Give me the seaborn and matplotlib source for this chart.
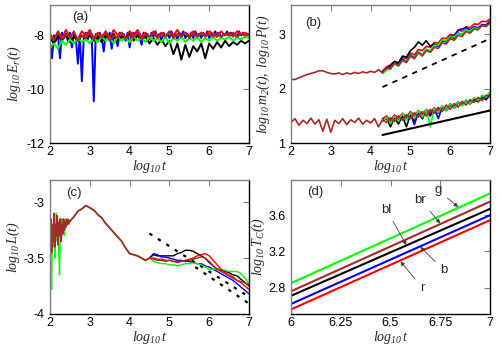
import numpy as np
import seaborn as sns
from matplotlib import pyplot as plt

# ---- data ----
# (a) log10 E_r(t)
blue_a = [-8.3, -8.85, -8.0, -8.2, -7.95, -8.85, -7.9, -8.1, -7.95, -8.2,
          -7.9, -8.45, -7.95, -8.1, -9.05, -8.0, -9.7, -8.05, -7.9, -8.15,
          -7.95, -8.1, -10.45, -7.95, -8.15, -7.9, -8.1, -8.6, -7.95, -8.1,
          -7.9, -8.5, -8.0, -8.15, -8.4, -7.9, -8.1, -7.95, -8.2, -7.9,
          -8.45, -8.0, -7.9, -8.15, -7.95, -8.1, -8.35, -7.9, -8.05, -7.95,
          -8.15, -7.9, -8.05, -7.85, -8.1, -7.95, -8.2, -7.9, -8.05, -7.95,
          -8.1, -7.85, -8.05, -7.95, -8.15, -7.9, -8.0, -7.85, -8.1, -7.95,
          -8.05, -7.9, -8.1, -7.85, -8.0, -7.95, -8.1, -7.9, -8.05, -7.85,
          -8.1, -7.95, -8.0, -7.85, -8.05, -7.9, -8.1, -7.95, -8.0, -7.85,
          -8.05, -7.9, -8.0, -7.95, -8.1, -7.85, -8.0, -7.9, -8.05, -7.95, -8.0]
red_a = [-7.95, -8.15, -7.85, -8.1, -7.8, -8.05, -7.9, -8.15, -7.85, -8.0,
         -7.8, -8.1, -7.9, -8.05, -7.85, -8.1, -7.8, -8.0, -7.9, -8.1,
         -7.85, -8.0, -7.8, -8.05, -7.9, -8.1, -7.85, -8.0, -7.9, -8.05,
         -7.85, -8.0, -7.8, -8.05, -7.9, -8.0, -7.85, -8.05, -7.9, -8.0,
         -7.85, -7.95, -8.05, -7.85, -8.0, -7.9, -8.05, -7.85, -7.95, -7.9, -8.0]
black_a = [-8.1, -8.3, -8.0, -8.2, -7.95, -8.25, -8.05, -8.2, -8.0, -8.15,
           -7.95, -8.2, -8.05, -8.25, -8.0, -8.15, -7.95, -8.2, -8.05, -8.1,
           -7.95, -8.2, -8.0, -8.15, -8.05, -8.3, -8.1, -8.35, -8.15, -8.4,
           -8.2, -8.7, -8.3, -8.9, -8.35, -8.8, -8.4, -8.6, -8.3, -8.85,
           -8.3, -8.5, -8.25, -8.45, -8.2, -8.4, -8.25, -8.35, -8.2, -8.3, -8.2]
green_a = [-8.45, -8.3, -8.5, -8.2, -8.35, -8.15, -8.3, -8.1, -8.25, -8.15,
           -8.3, -8.1, -8.25, -8.05, -8.2, -8.1, -8.3, -8.05, -8.2, -8.1,
           -8.25, -8.05, -8.2, -8.1, -8.25, -8.05, -8.2, -8.1, -8.25, -8.05,
           -8.3, -8.1, -8.2, -8.05, -8.25, -8.1, -8.2, -8.05, -8.25, -8.1,
           -8.2, -8.05, -8.2, -8.1, -8.15, -8.05, -8.2, -8.1, -8.15, -8.05, -8.1]
brown_a = [-8.0, -8.2, -7.9, -8.15, -7.95, -8.1, -7.85, -8.2, -8.0, -8.1,
           -7.9, -8.15, -7.95, -8.1, -7.9, -8.2, -8.0, -8.1, -7.9, -8.15,
           -8.0, -8.1, -7.9, -8.15, -7.95, -8.05, -7.9, -8.1, -7.95, -8.05,
           -7.9, -8.1, -7.95, -8.05, -7.9, -8.1, -7.95, -8.05, -7.9, -8.05,
           -7.95, -8.05, -7.9, -8.05, -7.95, -8.0, -7.9, -8.05, -7.95, -8.0, -7.95]

# (b) upper group log10 P(t), lower group log10 m2(t)
brown_up = [2.17, 2.17, 2.2, 2.23, 2.26, 2.28, 2.3, 2.33, 2.33, 2.3,
            2.28, 2.27, 2.29, 2.26, 2.29, 2.27, 2.3, 2.28, 2.31, 2.29,
            2.32, 2.3, 2.35, 2.29, 2.4, 2.36, 2.47, 2.42, 2.52, 2.48,
            2.6, 2.55, 2.66, 2.6, 2.7, 2.67, 2.76, 2.74, 2.84, 2.82,
            2.92, 2.89, 2.98, 2.96, 3.05, 3.02, 3.1, 3.08, 3.16, 3.14, 3.22]
red_up = [2.33, 2.4, 2.44, 2.5, 2.48, 2.57, 2.55, 2.66, 2.62, 2.72, 2.7, 2.78, 2.76, 2.85,
          2.84, 2.93, 2.92, 3.0, 2.98, 3.07, 3.06, 3.14, 3.12, 3.19, 3.18, 3.24, 3.23, 3.28]
black_up = [2.3, 2.38, 2.42, 2.5, 2.47, 2.6, 2.58, 2.7, 2.76, 2.86, 2.8, 2.88, 2.78, 2.82,
            2.8, 2.88, 2.86, 2.95, 2.93, 3.02, 3.0, 3.08, 3.06, 3.12, 3.1, 3.17, 3.15, 3.22]
blue_up = [2.3, 2.36, 2.4, 2.46, 2.45, 2.54, 2.5, 2.62, 2.57, 2.68, 2.62, 2.72, 2.68, 2.8,
           2.78, 2.88, 2.87, 2.97, 2.97, 3.08, 3.1, 3.12, 3.08, 3.14, 3.12, 3.18, 3.17, 3.24]
green_up = [2.28, 2.34, 2.38, 2.45, 2.42, 2.52, 2.5, 2.6, 2.56, 2.68, 2.62, 2.72, 2.7, 2.8,
            2.8, 2.9, 2.88, 2.96, 2.95, 3.02, 3.0, 3.08, 3.06, 3.12, 3.1, 3.16, 3.15, 3.2]
brown_low = [1.38, 1.45, 1.33, 1.42, 1.36, 1.46, 1.35, 1.43, 1.22, 1.44,
             1.2, 1.42, 1.36, 1.45, 1.34, 1.43, 1.38, 1.46, 1.35, 1.42,
             1.37, 1.45, 1.3, 1.43, 1.38, 1.47, 1.4, 1.5, 1.42, 1.52,
             1.45, 1.56, 1.48, 1.58, 1.5, 1.62, 1.55, 1.66, 1.58, 1.7,
             1.62, 1.73, 1.66, 1.77, 1.7, 1.8, 1.75, 1.84, 1.78, 1.88, 1.86]
red_low = [1.45, 1.5, 1.42, 1.52, 1.46, 1.55, 1.48, 1.58, 1.5, 1.6, 1.53, 1.62, 1.56, 1.65,
           1.6, 1.68, 1.62, 1.72, 1.66, 1.75, 1.7, 1.78, 1.73, 1.82, 1.77, 1.85, 1.8, 1.9]
black_low = [1.4, 1.46, 1.3, 1.48, 1.35, 1.5, 1.3, 1.52, 1.4, 1.56, 1.45, 1.6, 1.5, 1.62,
             1.55, 1.66, 1.6, 1.7, 1.64, 1.74, 1.7, 1.78, 1.72, 1.8, 1.76, 1.84, 1.8, 1.88]
blue_low = [1.42, 1.47, 1.38, 1.5, 1.42, 1.52, 1.45, 1.55, 1.34, 1.56, 1.5, 1.6, 1.52, 1.64,
            1.45, 1.66, 1.6, 1.72, 1.66, 1.76, 1.7, 1.78, 1.74, 1.82, 1.78, 1.86, 1.82, 1.9]
green_low = [1.4, 1.48, 1.36, 1.5, 1.4, 1.55, 1.42, 1.56, 1.45, 1.6, 1.48, 1.62, 1.3, 1.64,
             1.56, 1.68, 1.6, 1.72, 1.64, 1.76, 1.68, 1.8, 1.72, 1.84, 1.78, 1.88, 1.84, 1.95]
dash_b_x, dash_b_y = [4.3, 7.0], [2.03, 2.92]
solid_b_x, solid_b_y = [4.3, 7.0], [1.15, 1.6]

# (c) log10 L(t)
brown_c_early = [-3.4, -3.15, -3.45, -3.2, -3.35, -3.1, -3.4, -3.2, -3.3, -3.12, -3.38, -3.18, -3.3,
                 -3.15, -3.35, -3.2, -3.28, -3.15, -3.25, -3.18, -3.22, -3.15, -3.2, -3.16, -3.18, -3.17]
green_c_early = [-3.3, -3.5, -3.78, -3.2, -3.4, -3.15, -3.5, -3.25, -3.1, -3.35, -3.2, -3.45, -3.65,
                 -3.2, -3.3, -3.15, -3.25, -3.2, -3.3, -3.15, -3.22, -3.18, -3.2, -3.15, -3.2, -3.16]
brown_c_mid = [-3.17, -3.13, -3.08, -3.06, -3.03, -3.05, -3.07, -3.11, -3.14, -3.19, -3.23,
               -3.27, -3.31, -3.35, -3.41, -3.46, -3.47, -3.48, -3.5, -3.52, -3.5]
black_c = [-3.5, -3.47, -3.48, -3.48, -3.48, -3.48, -3.48, -3.46, -3.45, -3.43, -3.43, -3.44, -3.46,
           -3.48, -3.5, -3.54, -3.57, -3.6, -3.61, -3.62, -3.63, -3.65, -3.66, -3.69, -3.72, -3.75]
blue_c = [-3.5, -3.46, -3.47, -3.49, -3.49, -3.5, -3.51, -3.52, -3.52, -3.53, -3.53, -3.54, -3.55,
          -3.55, -3.57, -3.58, -3.6, -3.62, -3.64, -3.66, -3.68, -3.7, -3.73, -3.76, -3.79, -3.82]
red_c = [-3.5, -3.5, -3.51, -3.51, -3.52, -3.52, -3.53, -3.53, -3.53, -3.52, -3.51, -3.5, -3.48,
         -3.47, -3.46, -3.48, -3.52, -3.56, -3.6, -3.63, -3.65, -3.67, -3.7, -3.72, -3.75, -3.78]
brown_c_late = [-3.5, -3.51, -3.52, -3.52, -3.53, -3.52, -3.53, -3.54, -3.53, -3.52, -3.52, -3.51, -3.5,
                -3.49, -3.5, -3.53, -3.57, -3.6, -3.62, -3.64, -3.66, -3.68, -3.7, -3.71, -3.72, -3.74]
green_c_late = [-3.5, -3.53, -3.54, -3.55, -3.55, -3.56, -3.56, -3.57, -3.56, -3.55, -3.55, -3.54, -3.55,
                -3.56, -3.58, -3.6, -3.6, -3.59, -3.6, -3.61, -3.62, -3.62, -3.62, -3.64, -3.68, -3.73]
dot1_x, dot1_y = [4.5, 6.97], [-3.28, -3.84]
dot2_x, dot2_y = [5.65, 6.97], [-3.58, -3.9]

# (d) log10 T_C(t)
t_d = [6.0, 7.0]
tc_d = {'green': [2.85, 3.84], 'brown': [2.76, 3.75], 'black': [2.71, 3.67],
        'blue': [2.62, 3.6], 'red': [2.56, 3.545]}
# label, arrow tip, text position
notes_d = [('g', (6.84, 3.69), (6.74, 3.875)),
           ('br', (6.75, 3.51), (6.65, 3.77)),
           ('bl', (6.58, 3.27), (6.48, 3.66)),
           ('b', (6.65, 3.25), (6.77, 2.99)),
           ('r', (6.55, 3.09), (6.66, 2.80))]

cols = {'blue': '#0000ff', 'red': '#ff0000', 'black': '#000000',
        'green': '#00ff00', 'brown': '#a52a2a'}

# ---- style ----
sns.set_style('white')
plt.rcParams['font.family'] = ['Liberation Sans', 'DejaVu Sans']
plt.rcParams['axes.unicode_minus'] = False
plt.rcParams['mathtext.fontset'] = 'custom'
plt.rcParams['mathtext.it'] = 'Liberation Serif:italic'
plt.rcParams['mathtext.rm'] = 'Liberation Serif:italic'

fig = plt.figure(figsize=(5, 3.5), dpi=100)
ax_a = fig.add_axes([0.100, 0.591, 0.398, 0.395])
ax_b = fig.add_axes([0.582, 0.591, 0.398, 0.395])
ax_c = fig.add_axes([0.100, 0.103, 0.398, 0.383])
ax_d = fig.add_axes([0.582, 0.103, 0.398, 0.383])


def line(ax, y, start, color, lw=1.2, end=7.0):
    x = np.linspace(start, end, len(y))
    sns.lineplot(x=x, y=y, color=cols[color], lw=lw, ax=ax, sort=False,
                 estimator=None)


def frame(ax):
    for s in ['left', 'top']:
        ax.spines[s].set_color('#808080')
    for s in ['bottom', 'right']:
        ax.spines[s].set_color('black')
    for s in ax.spines.values():
        s.set_linewidth(1.0)
    ax.tick_params(direction='in', top=True, right=True, length=4,
                   color='#808080', labelsize=9, pad=2, labelcolor='black')
    ax.tick_params(axis='y', pad=4)
    ax.set_xlabel(r'$log_{10}\,t$', fontsize=10, labelpad=0)


# (a)
for c, y in [('blue', blue_a), ('red', red_a), ('black', black_a),
             ('green', green_a), ('brown', brown_a)]:
    line(ax_a, y, 2.0, c, lw=1.4)
ax_a.set_xlim(2, 7)
ax_a.set_ylim(-12, -6.87)
ax_a.set_xticks([2, 3, 4, 5, 6, 7])
ax_a.set_yticks([-8, -10, -12])
ax_a.set_ylabel(r'$log_{10}\,E_r(t)$', fontsize=10)
ax_a.yaxis.set_label_coords(-0.135, 0.5)
ax_a.text(0.15, 0.91, '(a)', transform=ax_a.transAxes, fontsize=9.5,
          ha='center', va='center')

# (b)
for c, y in [('red', red_up), ('black', black_up), ('blue', blue_up),
             ('green', green_up)]:
    line(ax_b, y, 4.3, c)
line(ax_b, brown_up, 2.0, 'brown')
for c, y in [('red', red_low), ('black', black_low), ('blue', blue_low),
             ('green', green_low)]:
    line(ax_b, y, 4.3, c)
line(ax_b, brown_low, 2.0, 'brown')
ax_b.plot(dash_b_x, dash_b_y, color='black', lw=1.3, ls=(0, (3, 3)))
ax_b.plot(solid_b_x, solid_b_y, color='black', lw=1.5)
ax_b.set_xlim(2, 7)
ax_b.set_ylim(1, 3.54)
ax_b.set_xticks([2, 3, 4, 5, 6, 7])
ax_b.set_yticks([1, 2, 3])
ax_b.set_ylabel(r'$log_{10}\,m_2(t),\ log_{10}\,P(t)$', fontsize=10)
ax_b.yaxis.set_label_coords(-0.095, 0.5)
ax_b.text(0.11, 0.87, '(b)', transform=ax_b.transAxes, fontsize=9.5,
          ha='center', va='center')

# (c)
t_early = np.linspace(2.0, 2.5, len(green_c_early))
t_mid = np.linspace(2.5, 4.5, len(brown_c_mid))
sns.lineplot(x=np.concatenate([t_early, t_mid]), y=green_c_early + brown_c_mid,
             color=cols['green'], lw=1.0, ax=ax_c, sort=False, estimator=None)
for c, y in [('black', black_c), ('blue', blue_c), ('green', green_c_late),
             ('red', red_c)]:
    line(ax_c, y, 4.5, c, lw=1.0)
sns.lineplot(x=np.concatenate([t_early, t_mid]), y=brown_c_early + brown_c_mid,
             color=cols['brown'], lw=1.3, ax=ax_c, sort=False, estimator=None)
line(ax_c, brown_c_late, 4.5, 'brown', lw=1.0)
ax_c.plot(dot1_x, dot1_y, color='black', lw=1.6, ls=(0, (1.5, 3)))
ax_c.plot(dot2_x, dot2_y, color='black', lw=1.6, ls=(0, (1.5, 3)))
ax_c.set_xlim(2, 7)
ax_c.set_ylim(-4, -2.8)
ax_c.set_xticks([2, 3, 4, 5, 6, 7])
ax_c.set_yticks([-3, -3.5, -4])
ax_c.set_yticklabels(['-3', '-3.5', '-4'])
ax_c.set_ylabel(r'$log_{10}\,L(t)$', fontsize=10)
ax_c.yaxis.set_label_coords(-0.14, 0.5)
ax_c.text(0.12, 0.9, '(c)', transform=ax_c.transAxes, fontsize=9.5,
          ha='center', va='center')

# (d)
for c in ['green', 'brown', 'black', 'blue', 'red']:
    sns.lineplot(x=t_d, y=tc_d[c], color=cols[c], lw=1.5, ax=ax_d)
for lab, tip, pos in notes_d:
    ax_d.annotate(lab, xy=tip, xytext=pos, fontsize=9.5, ha='center',
                  va='center',
                  arrowprops=dict(arrowstyle='-|>', color='#404040', lw=0.6,
                                  mutation_scale=6, shrinkA=2, shrinkB=0))
ax_d.set_xlim(6, 7)
ax_d.set_ylim(2.51, 3.99)
ax_d.set_xticks([6, 6.25, 6.5, 6.75, 7])
ax_d.set_xticklabels(['6', '6.25', '6.5', '6.75', '7'])
ax_d.set_yticks([2.8, 3.2, 3.6])
ax_d.set_ylabel(r'$log_{10}\,T_C(t)$', fontsize=10)
ax_d.yaxis.set_label_coords(-0.12, 0.5)
ax_d.text(0.12, 0.91, '(d)', transform=ax_d.transAxes, fontsize=9.5,
          ha='center', va='center')

for ax in [ax_a, ax_b, ax_c, ax_d]:
    frame(ax)

fig.savefig('out.png', dpi=100)
